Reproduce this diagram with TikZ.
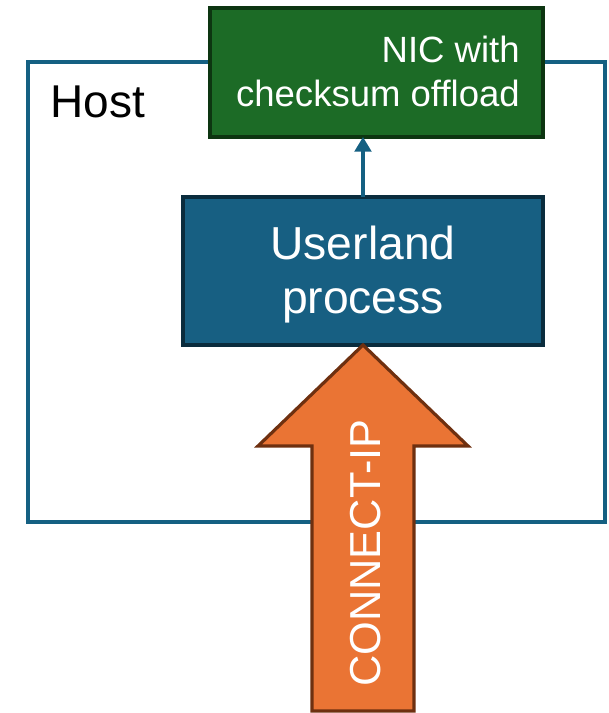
\documentclass[tikz,border=0pt]{standalone}
\usepackage{fontspec}
\setmainfont{Liberation Sans}
\usetikzlibrary{arrows.meta,fit}
\definecolor{hostblue}{HTML}{156082}
\definecolor{userfill}{HTML}{175F82}
\definecolor{userline}{HTML}{0A2C3D}
\definecolor{nicfill}{HTML}{1C6B26}
\definecolor{nicline}{HTML}{0D3511}
\definecolor{cipfill}{HTML}{EA7434}
\definecolor{cipline}{HTML}{6E3010}
\tikzset{
  box/.style={inner sep=0pt, outer sep=0pt, line width=2.6pt},
  hostframe/.style={box, draw=hostblue},
  nicbox/.style={box, draw=nicline, fill=nicfill},
  userbox/.style={box, draw=userline, fill=userfill, line width=3.2pt},
  bigarrow/.style={draw=cipline, fill=cipfill, line width=2.4pt, line join=miter},
  flow/.style={draw=hostblue, line width=2.4pt, -{Triangle[length=11pt,width=12.5pt]}},
  whitetext/.style={text=white, inner sep=0pt},
}
\begin{document}
\begin{tikzpicture}[x=0.75pt, y=-0.75pt]
  \useasboundingbox (0,0) rectangle (608,713);

  % host frame
  \coordinate (h1) at (28,62);
  \coordinate (h2) at (605,522);
  \node[hostframe, fit=(h1)(h2)] (host) {};
  \node[anchor=base west, inner sep=0pt, font=\fontsize{34.5}{40}\selectfont]
    (hostlabel) at (50,118) {Host};

  % network card (multi-line text sits on its last baseline)
  \coordinate (n1) at (210,8);
  \coordinate (n2) at (543,137);
  \node[nicbox, fit=(n1)(n2)] (nic) {};
  \node[whitetext, anchor=base east, align=right,
        font=\fontsize{27.4}{33}\selectfont] (nictext) at (520,107)
    {NIC with\\checksum offload};

  % userland process
  \coordinate (u1) at (183,197);
  \coordinate (u2) at (543,345);
  \node[userbox, fit=(u1)(u2)] (user) {};
  \node[whitetext, anchor=base, align=center,
        font=\fontsize{34.7}{40}\selectfont] (usertext) at (363,313)
    {Userland\\process};

  % flow from the process up to the card
  \draw[flow] (user.north) -- (user.north |- nic.south);

  % CONNECT-IP block arrow
  \coordinate (tip) at (user.south);
  \path[bigarrow] (tip) -- (468,446) -- (414,446) -- (414,711)
    -- (312,711) -- (312,446) -- (258,446) -- cycle;
  \node[whitetext, rotate=90, anchor=base,
        font=\fontsize{32.5}{38}\selectfont] (cip) at (380,553) {CONNECT-IP};
\end{tikzpicture}
\end{document}
